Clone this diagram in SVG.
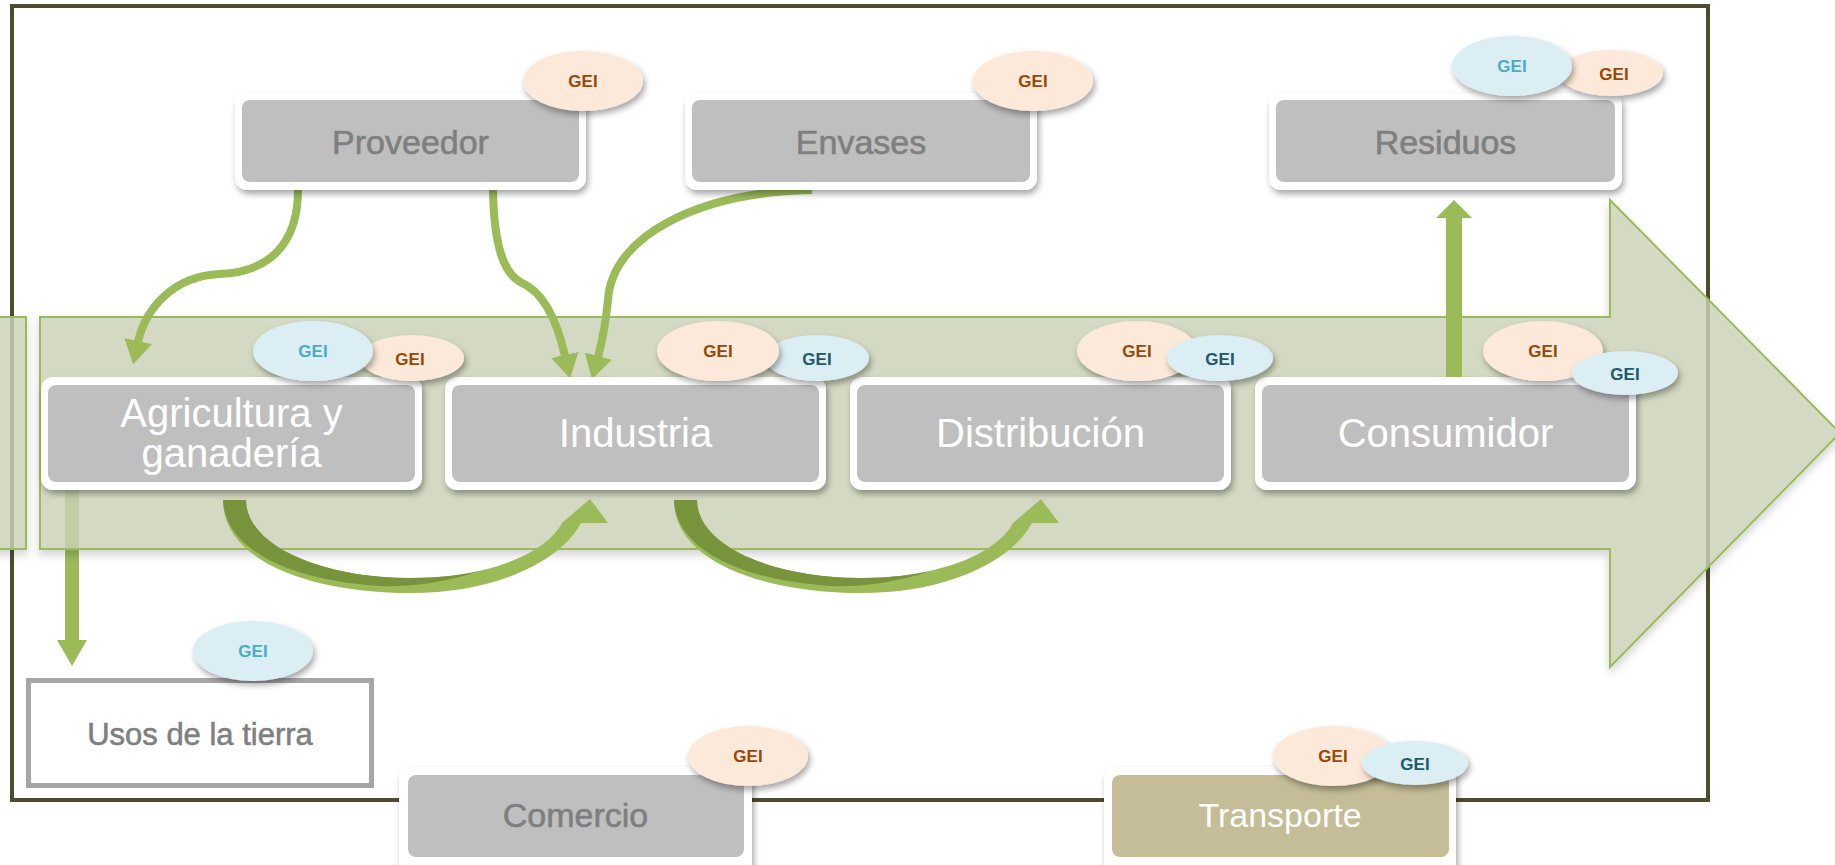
<svg xmlns="http://www.w3.org/2000/svg" width="1835" height="865" viewBox="0 0 1835 865">
<style>
.outer{fill:#ffffff;filter:url(#sh)}
.inner{fill:#bfbfbf}
.wt{font-family:"Liberation Sans",Arial,sans-serif;font-size:40px;fill:#ffffff;text-anchor:middle}
.gt{font-family:"Liberation Sans",Arial,sans-serif;font-size:34px;fill:#7f7f7f;stroke:#7f7f7f;stroke-width:0.6;text-anchor:middle}
.gei{font-family:"Liberation Sans",Arial,sans-serif;font-size:17px;font-weight:bold;text-anchor:middle}
.pe{fill:#fde9d9;filter:url(#sh)}
.bl{fill:#daeef3;filter:url(#sh)}
.tb{fill:#984807}
.tl{fill:#4bacc6}
.td{fill:#215967}
.con{fill:none;stroke:#9bbb59;stroke-width:8}
.band{fill:#cdd5b9;fill-opacity:0.8;stroke:#9bbb59;stroke-width:2}
</style>
<defs>
<filter id="sh" x="-20%" y="-20%" width="140%" height="150%">
<feDropShadow dx="2" dy="4" stdDeviation="3" flood-color="#000" flood-opacity="0.35"/>
</filter>
<filter id="sh2" x="-5%" y="-10%" width="110%" height="130%">
<feDropShadow dx="0" dy="5" stdDeviation="4" flood-color="#000" flood-opacity="0.2"/>
</filter>
<marker id="ah" markerUnits="userSpaceOnUse" markerWidth="24" markerHeight="28" viewBox="0 0 24 28" refX="1" refY="14" orient="auto">
<path d="M0,0 L24,14 L0,28 z" fill="#9bbb59"/>
</marker>
</defs>
<rect width="1835" height="865" fill="#ffffff"/>
<rect x="12" y="6" width="1696" height="794" fill="none" stroke="#4e4b30" stroke-width="4"/>

<g id="connectors">
<g id="agri-usos">
<rect x="65" y="489" width="14" height="152" fill="#9bbb59"/>
<path d="M57,640 L87,640 L72,666 z" fill="#9bbb59"/>
</g>
</g>

<g id="flow-arrow" filter="url(#sh2)">
<rect class="band" x="-10" y="317" width="36" height="232"/>
<path class="band" d="M40,317 L1610,317 L1610,200 L1840,433 L1610,667 L1610,549 L40,549 Z"/>
</g>

<g id="connectors-top">
<path class="con" d="M298,190 C298,245 268,272 220,274 C172,276 145,310 138,342" marker-end="url(#ah)"/>
<path class="con" d="M493,190 C494,250 505,275 522,283 C545,293 558,325 565,356" marker-end="url(#ah)"/>
<path class="con" d="M812,190 C700,192 612,235 608,300 C606,320 604,335 598,357" marker-end="url(#ah)"/>
<g id="cons-res">
<rect x="1446" y="216" width="16" height="162" fill="#9bbb59"/>
<path d="M1436,218 L1472,218 L1454,200 z" fill="#9bbb59"/>
</g>
</g>

<g id="n-proveedor">
<rect class="outer" x="235" y="93" width="351" height="97" rx="12"/>
<rect class="inner" x="242" y="100" width="337" height="82" rx="8"/>
<text class="gt" x="410.5" y="154">Proveedor</text>
</g>
<g id="n-envases">
<rect class="outer" x="685" y="93" width="352" height="97" rx="12"/>
<rect class="inner" x="692" y="100" width="338" height="82" rx="8"/>
<text class="gt" x="861" y="154">Envases</text>
</g>
<g id="n-residuos">
<rect class="outer" x="1269" y="93" width="353" height="97" rx="12"/>
<rect class="inner" x="1276" y="100" width="339" height="82" rx="8"/>
<text class="gt" x="1445.5" y="154">Residuos</text>
</g>

<g id="n-agricultura">
<rect class="outer" x="41" y="377" width="381" height="113" rx="12"/>
<rect class="inner" x="48" y="385" width="367" height="97" rx="8"/>
<text class="wt" x="231.5" y="427">Agricultura y</text>
<text class="wt" x="231.5" y="467">ganadería</text>
</g>
<g id="n-industria">
<rect class="outer" x="445" y="377" width="381" height="113" rx="12"/>
<rect class="inner" x="452" y="385" width="367" height="97" rx="8"/>
<text class="wt" x="635.5" y="447">Industria</text>
</g>
<g id="n-distribucion">
<rect class="outer" x="850" y="377" width="381" height="113" rx="12"/>
<rect class="inner" x="857" y="385" width="367" height="97" rx="8"/>
<text class="wt" x="1040.5" y="447">Distribución</text>
</g>
<g id="n-consumidor">
<rect class="outer" x="1255" y="377" width="381" height="113" rx="12"/>
<rect class="inner" x="1262" y="385" width="367" height="97" rx="8"/>
<text class="wt" x="1445.5" y="447">Consumidor</text>
</g>

<g id="curved-arrows">
<g id="agri-ind">
<path d="M223,500 C223,565 320,593 410,593 C495,593 560,562 581,523 L608,523 L590,499 L562,523 C545,555 485,578 410,578 C320,578 246,545 246,500 Z" fill="#9bbb59"/>
<path d="M223,500 L246,500 C246,545 320,578 410,578 C440,578 462,575 480,571 C440,584 405,587 380,586 C290,580 225,550 223,500 Z" fill="#77933c"/>
</g>
<g id="ind-dist" transform="translate(451,0)">
<path d="M223,500 C223,565 320,593 410,593 C495,593 560,562 581,523 L608,523 L590,499 L562,523 C545,555 485,578 410,578 C320,578 246,545 246,500 Z" fill="#9bbb59"/>
<path d="M223,500 L246,500 C246,545 320,578 410,578 C440,578 462,575 480,571 C440,584 405,587 380,586 C290,580 225,550 223,500 Z" fill="#77933c"/>
</g>
</g>

<g id="n-usos">
<rect x="28.5" y="680.5" width="343" height="105" fill="#ffffff" stroke="#a6a6a6" stroke-width="5"/>
<text class="gt" x="200" y="745" style="font-size:31px">Usos de la tierra</text>
</g>
<g id="n-comercio">
<rect class="outer" x="399" y="767" width="353" height="108" rx="12"/>
<rect class="inner" x="408" y="775" width="336" height="82" rx="8"/>
<text class="gt" x="575.5" y="827">Comercio</text>
</g>
<g id="n-transporte">
<rect class="outer" x="1104" y="767" width="352" height="108" rx="12"/>
<rect x="1112" y="775" width="337" height="82" rx="8" fill="#c4bd97"/>
<text class="wt" x="1280" y="827" style="font-size:34px">Transporte</text>
</g>

<g id="gei-proveedor">
<ellipse class="pe" cx="583" cy="81" rx="60" ry="30"/>
<text class="gei tb" x="583" y="87">GEI</text>
</g>
<g id="gei-envases">
<ellipse class="pe" cx="1033" cy="81" rx="60" ry="30"/>
<text class="gei tb" x="1033" y="87">GEI</text>
</g>
<g id="gei-residuos">
<ellipse class="pe" cx="1611" cy="73" rx="52" ry="23"/>
<text class="gei tb" x="1614" y="80">GEI</text>
<ellipse class="bl" cx="1512" cy="66" rx="60" ry="30"/>
<text class="gei tl" x="1512" y="72">GEI</text>
</g>
<g id="gei-agricultura">
<ellipse class="pe" cx="412" cy="358" rx="52" ry="23"/>
<text class="gei tb" x="410" y="365">GEI</text>
<ellipse class="bl" cx="313" cy="351" rx="60" ry="30"/>
<text class="gei tl" x="313" y="357">GEI</text>
</g>
<g id="gei-industria">
<ellipse class="bl" cx="817" cy="358" rx="52" ry="23"/>
<text class="gei td" x="817" y="365">GEI</text>
<ellipse class="pe" cx="718" cy="351" rx="61" ry="30"/>
<text class="gei tb" x="718" y="357">GEI</text>
</g>
<g id="gei-distribucion">
<ellipse class="pe" cx="1137" cy="351" rx="60" ry="30"/>
<text class="gei tb" x="1137" y="357">GEI</text>
<ellipse class="bl" cx="1220" cy="358" rx="53" ry="23"/>
<text class="gei td" x="1220" y="365">GEI</text>
</g>
<g id="gei-consumidor">
<ellipse class="pe" cx="1543" cy="351" rx="60" ry="30"/>
<text class="gei tb" x="1543" y="357">GEI</text>
<ellipse class="bl" cx="1625" cy="373" rx="53" ry="22"/>
<text class="gei td" x="1625" y="380">GEI</text>
</g>
<g id="gei-usos">
<ellipse class="bl" cx="253" cy="651" rx="60" ry="30"/>
<text class="gei tl" x="253" y="657">GEI</text>
</g>
<g id="gei-comercio">
<ellipse class="pe" cx="748" cy="756" rx="60" ry="30"/>
<text class="gei tb" x="748" y="762">GEI</text>
</g>
<g id="gei-transporte">
<ellipse class="pe" cx="1333" cy="756" rx="60" ry="30"/>
<text class="gei tb" x="1333" y="762">GEI</text>
<ellipse class="bl" cx="1415" cy="763" rx="53" ry="22"/>
<text class="gei td" x="1415" y="770">GEI</text>
</g>
</svg>
